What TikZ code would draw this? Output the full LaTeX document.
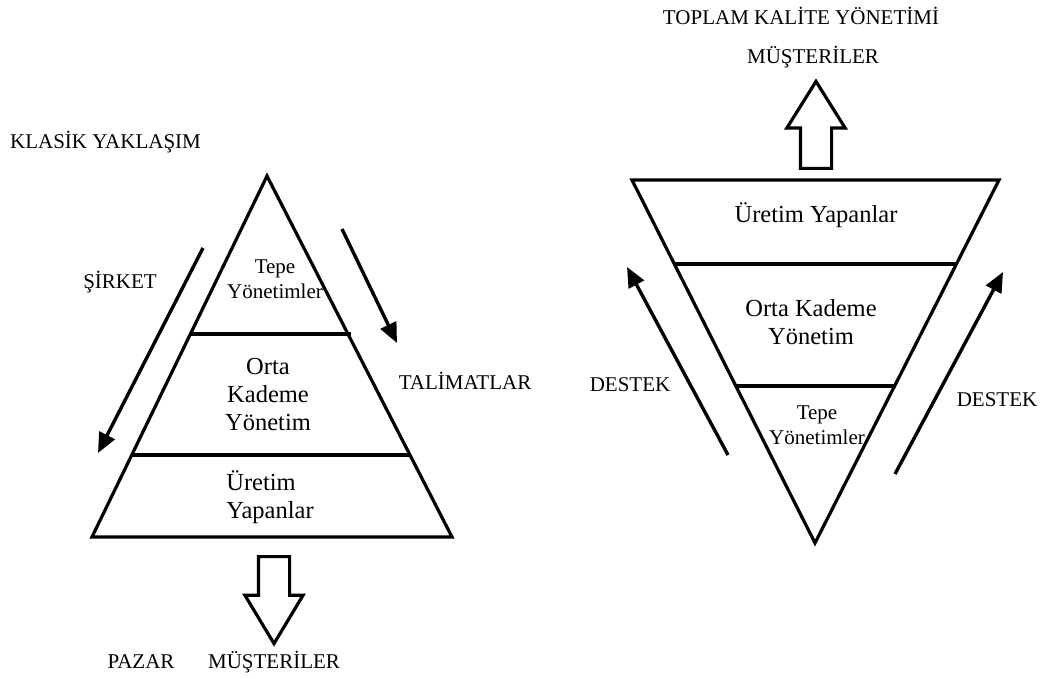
\documentclass[tikz,border=0pt]{standalone}
\usepackage{fontspec}
\setmainfont{Liberation Serif}
\usetikzlibrary{arrows.meta, shapes.arrows}

\begin{document}
\begin{tikzpicture}[
    x=1pt, y=-1pt,
    % Define Styles for Consistency
    edge/.style={
        line width=3.2pt, line join=miter
    },
    layer/.style={
        line width=3.2pt
    },
    flow/.style={
        -{Triangle[length=20pt, width=17pt]}, line width=3.4pt
    },
    blockarrow/.style={
        single arrow, draw, line width=3.2pt, fill=white,
        minimum height=87pt, minimum width=55pt, inner sep=14pt,
        single arrow head extend=13.5pt, single arrow tip angle=62
    },
    caption/.style={
        font=\fontsize{21}{25}\selectfont, inner sep=0pt
    },
    levelname/.style={
        font=\fontsize{24.5}{28}\selectfont, align=center, inner sep=0pt
    },
    topname/.style={
        font=\fontsize{21}{25.5}\selectfont, align=center, inner sep=0pt
    }
]
    \useasboundingbox (0,0) rectangle (1048,679);

    % --- 1. Classic Approach (Left Pyramid) ---

    \coordinate (apexL) at (267,176);
    \coordinate (baseLl) at (92,537);
    \coordinate (baseLr) at (452,537);
    \draw[edge] (apexL) -- (baseLr) -- (baseLl) -- cycle;
    \draw[layer] (190.5,334) -- (351,334);
    \draw[layer] (132,455) -- (411,455);

    \node[caption] (klasik) at (105.5,142) {KLASİK YAKLAŞIM};

    \node[topname] (tepeL) at (275,279) {Tepe\\Yönetimler};
    \node[levelname] (ortaL) at (268,395) {Orta\\Kademe\\Yönetim};
    \node[levelname, align=left] (uretimL) at (270,497) {Üretim\\ Yapanlar};

    % Side arrows
    \coordinate (sirketTop) at (203,248);
    \coordinate (sirketEnd) at (98,453);
    \draw[flow] (sirketTop) -- (sirketEnd);
    \node[caption] (sirket) at (120,282) {ŞİRKET};

    \coordinate (talimatTop) at (342,229);
    \coordinate (talimatEnd) at (397,343);
    \draw[flow] (talimatTop) -- (talimatEnd);
    \node[caption] (talimat) at (465,381) {TALİMATLAR};

    % Output to the market
    \node[blockarrow, shape border rotate=270, anchor=tail] (toMarket) at (274,555) {};
    \node[caption] (pazar) at (141,662) {PAZAR};
    \node[caption] (musteriL) at (274,662) {MÜŞTERİLER};

    % --- 2. Total Quality Management (Inverted Pyramid) ---

    \coordinate (topRl) at (632,180);
    \coordinate (topRr) at (999,180);
    \coordinate (tipR) at (815,543);
    \draw[edge] (topRl) -- (topRr) -- (tipR) -- cycle;
    \draw[layer] (674,264) -- (956,264);
    \draw[layer] (736,386) -- (896,386);

    \node[caption] (tkm) at (801,16) {TOPLAM KALİTE YÖNETİMİ};
    \node[caption] (musteriR) at (813,57) {MÜŞTERİLER};

    \node[levelname] (uretimR) at (816,215) {Üretim Yapanlar};
    \node[levelname] (ortaR) at (811,322) {Orta Kademe\\Yönetim};
    \node[topname] (tepeR) at (817,425) {Tepe\\Yönetimler};

    % Support arrows
    \coordinate (destekLlow) at (728,455);
    \coordinate (destekLend) at (627,267);
    \draw[flow] (destekLlow) -- (destekLend);
    \node[caption] (destekL) at (630,385) {DESTEK};

    \coordinate (destekRlow) at (895,474);
    \coordinate (destekRend) at (1003,272);
    \draw[flow] (destekRlow) -- (destekRend);
    \node[caption] (destekR) at (997,400) {DESTEK};

    % Output to the customers
    \node[blockarrow, shape border rotate=90, anchor=tail, single arrow tip angle=64] (toCustomer) at (816,170) {};

\end{tikzpicture}
\end{document}
